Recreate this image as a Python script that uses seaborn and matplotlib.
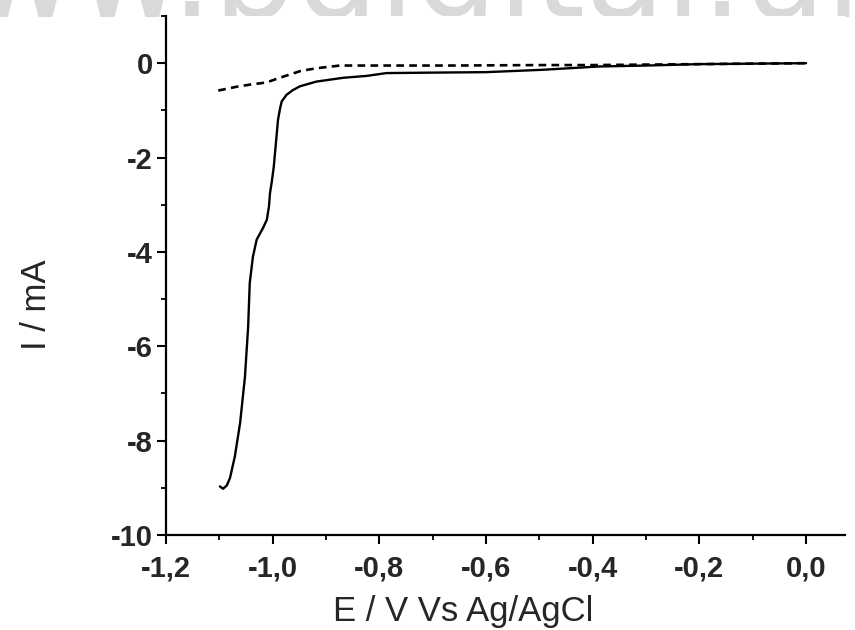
import matplotlib
matplotlib.use("Agg")
import matplotlib.pyplot as plt
import seaborn as sns
import pandas as pd
from matplotlib.ticker import MultipleLocator, FuncFormatter

# ---- data ----
solid_E = [-1.099, -1.093, -1.086, -1.080, -1.071, -1.061, -1.052, -1.046, -1.043,
           -1.037, -1.030, -1.018, -1.011, -1.007, -1.005, -1.002, -0.998, -0.994,
           -0.990, -0.986, -0.983, -0.974, -0.962, -0.949, -0.918, -0.868, -0.824,
           -0.787, -0.700, -0.600, -0.494, -0.388, -0.300, -0.200, -0.100, 0.0]
solid_I = [-8.97, -9.02, -8.95, -8.79, -8.34, -7.62, -6.65, -5.59, -4.66,
           -4.10, -3.74, -3.49, -3.32, -3.04, -2.75, -2.54, -2.20, -1.70,
           -1.20, -0.95, -0.81, -0.67, -0.57, -0.49, -0.39, -0.31, -0.27,
           -0.21, -0.20, -0.19, -0.14, -0.07, -0.05, -0.02, -0.01, 0.0]

dash_E = [-1.102, -1.068, -1.040, -1.012, -0.987, -0.965, -0.949, -0.930, -0.912,
          -0.874, -0.775, -0.663, -0.500, -0.400, -0.300, -0.200, -0.100, 0.0]
dash_I = [-0.58, -0.50, -0.45, -0.41, -0.31, -0.23, -0.17, -0.13, -0.10,
          -0.05, -0.05, -0.05, -0.04, -0.04, -0.03, -0.02, -0.01, 0.0]

x_label = "E / V Vs Ag/AgCl"
y_label = "I / mA"
watermark = "www.bdigital.unal.edu.co"

sns.set_theme(style="ticks")
plt.rcParams["font.family"] = ["Liberation Sans", "DejaVu Sans"]

fig = plt.figure(figsize=(8.55, 6.3), dpi=100)
ax_l, ax_r, ax_b, ax_t = 166, 845, 535, 16
ax = fig.add_axes([ax_l/855, 1-ax_b/630, (ax_r-ax_l)/855, (ax_b-ax_t)/630])

df_s = pd.DataFrame({"E": solid_E, "I": solid_I})
df_d = pd.DataFrame({"E": dash_E, "I": dash_I})
sns.lineplot(data=df_s, x="E", y="I", ax=ax, color="black", lw=1.7,
             estimator=None, sort=False)
sns.lineplot(data=df_d, x="E", y="I", ax=ax, color="black", lw=1.9,
             estimator=None, sort=False, dashes=False)
ax.lines[-1].set_dashes((2.9, 2.0))

ax.set_xlim(-1.2, 0.073)
ax.set_ylim(-10, 1.0)
ax.xaxis.set_major_locator(MultipleLocator(0.2))
ax.xaxis.set_minor_locator(MultipleLocator(0.1))
ax.yaxis.set_major_locator(MultipleLocator(2))
ax.yaxis.set_minor_locator(MultipleLocator(1))
ax.xaxis.set_major_formatter(FuncFormatter(lambda v, p: f"{v:.1f}".replace(".", ",").replace("-0,0", "0,0")))
ax.yaxis.set_major_formatter(FuncFormatter(lambda v, p: f"{int(round(v))}"))

for s in ["top", "right"]:
    ax.spines[s].set_visible(False)
for s in ["left", "bottom"]:
    ax.spines[s].set_linewidth(1.6)
    ax.spines[s].set_color("black")

ax.tick_params(which="major", direction="out", length=6.5, width=1.5, color="black",
               labelsize=21, pad=3)
ax.tick_params(axis="x", which="major", pad=7.5)
ax.tick_params(which="minor", direction="out", length=3.5, width=1.3, color="black")
for lab in ax.get_xticklabels() + ax.get_yticklabels():
    lab.set_fontweight("bold")

ax.set_xlabel(x_label, fontsize=25, va="baseline")
ax.xaxis.set_label_coords((463-ax_l)/(ax_r-ax_l), (ax_b-621)/(ax_b-ax_t))
ax.set_ylabel(y_label, fontsize=25, va="center")
ax.yaxis.set_label_coords((37-ax_l)/(ax_r-ax_l), (ax_b-305)/(ax_b-ax_t))
ax.grid(False)

fig.text(-136/855, 1-17/630, watermark, fontsize=94, color="#d9d9d9",
         va="baseline", ha="left", family="DejaVu Sans", zorder=-1)

fig.savefig("out.png", dpi=100)
